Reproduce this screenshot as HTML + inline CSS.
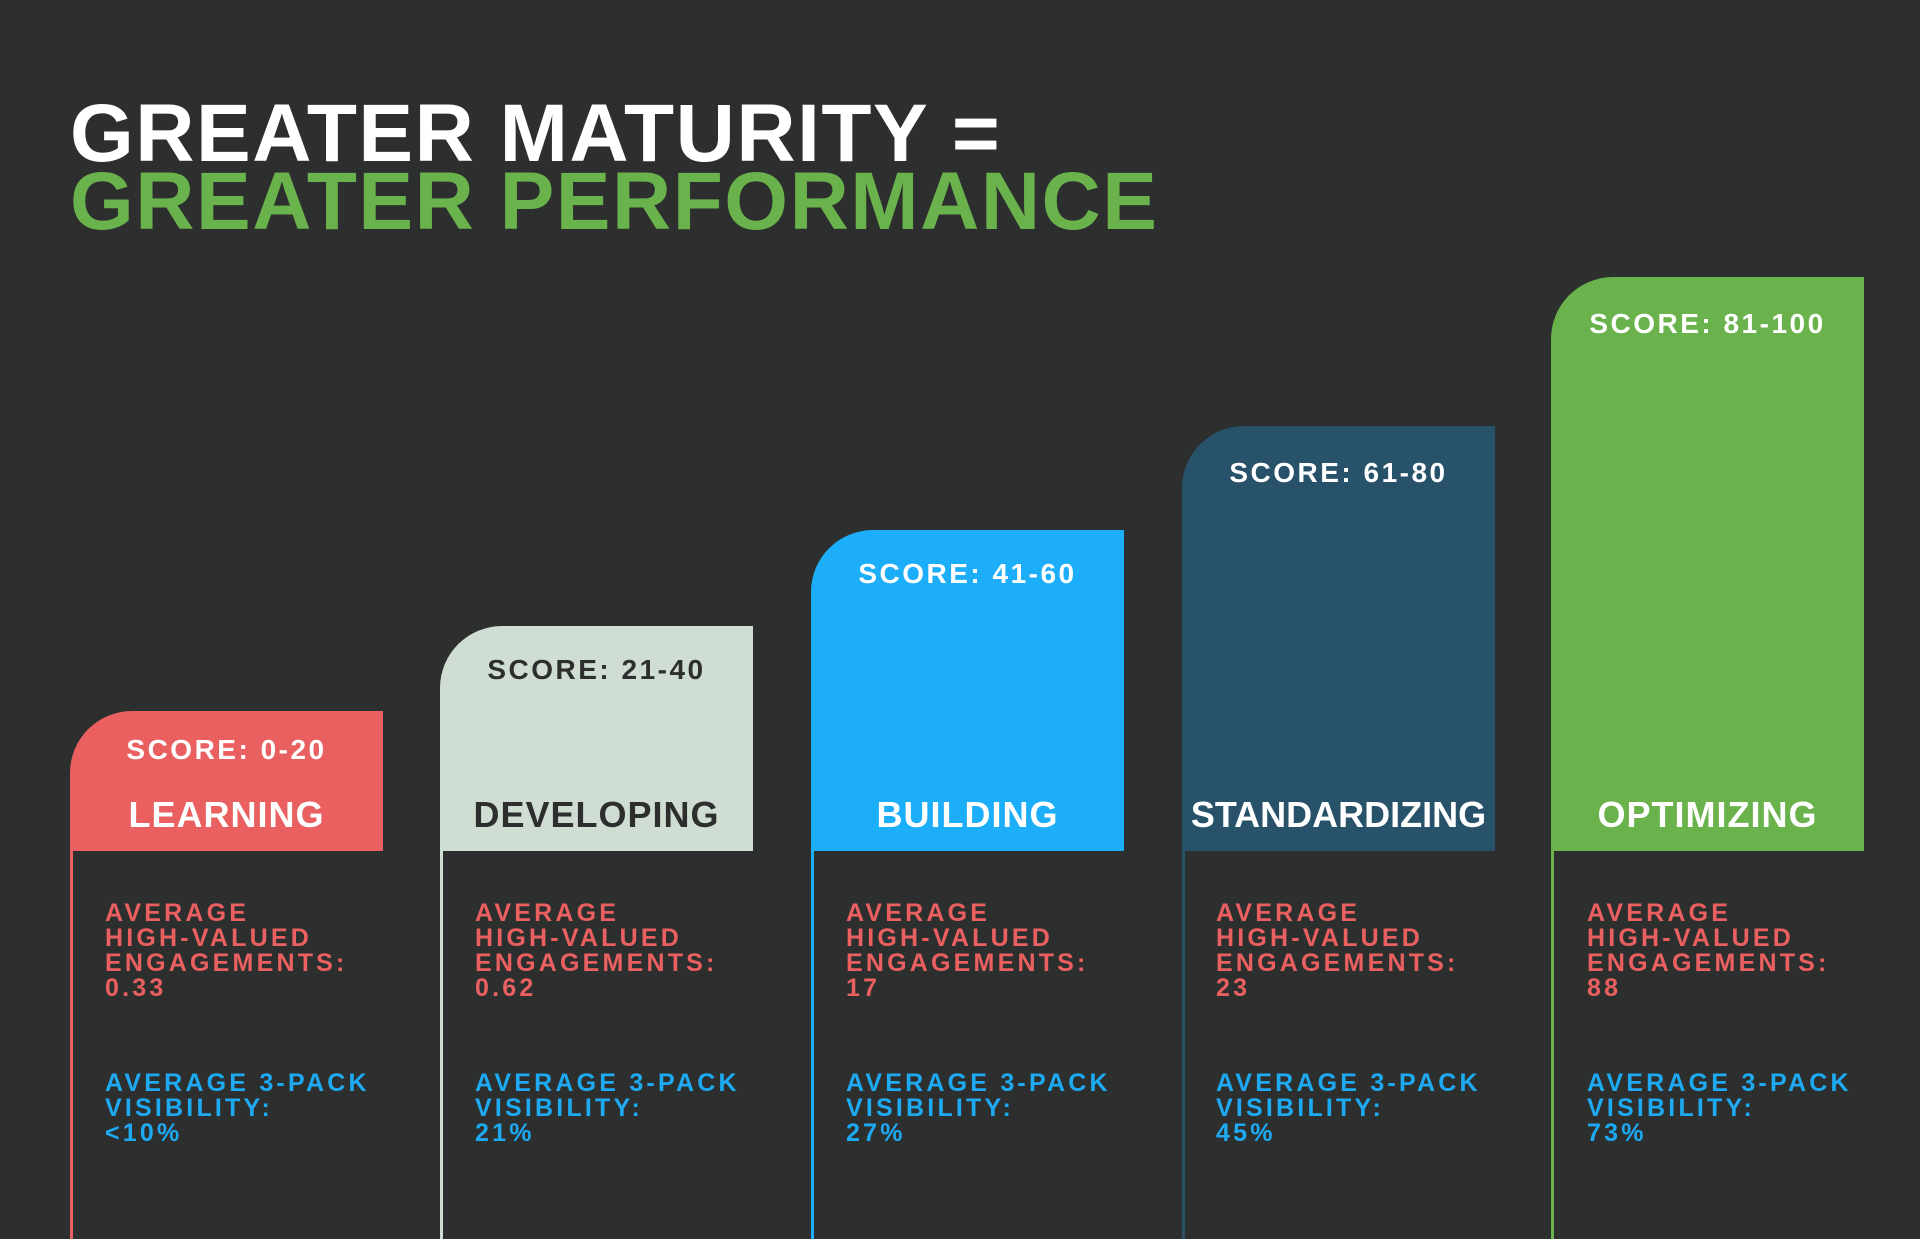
<!DOCTYPE html>
<html><head><meta charset="utf-8">
<style>
*{margin:0;padding:0;box-sizing:border-box}
body{width:1920px;height:1239px;background:#2d2e2e;position:relative;overflow:hidden;font-family:"Liberation Sans",sans-serif;font-weight:bold}
.t{position:absolute;left:70px;font-size:82px;line-height:1;letter-spacing:1.5px;white-space:nowrap}
.bar{position:absolute;width:313px;border-top-left-radius:62px}
.line{position:absolute;width:3px;top:851px;height:388px}
.sc{position:absolute;width:313px;text-align:center;font-size:28px;line-height:1;letter-spacing:2.5px}
.nm{position:absolute;width:313px;text-align:center;font-size:36px;line-height:1;top:797px;letter-spacing:1px}
.body{position:absolute;font-size:25px;line-height:25px;letter-spacing:3.2px;white-space:nowrap}
.r{color:#ea6060}.b{color:#1eaaf2}
</style></head><body>
<div class="t" style="top:93px;color:#fff">GREATER MATURITY =</div>
<div class="t" style="top:161px;color:#6ab24c">GREATER PERFORMANCE</div>

<div class="bar" style="left:70px;top:711px;height:140px;background:#ea6060"></div>
<div class="line" style="left:70px;background:#ea6060"></div>
<div class="sc" style="left:70px;top:736px;color:#fff">SCORE: 0-20</div>
<div class="nm" style="left:70px;color:#fff">LEARNING</div>

<div class="bar" style="left:440px;top:626px;height:225px;background:#d0ddd3"></div>
<div class="line" style="left:440px;background:#d0ddd3"></div>
<div class="sc" style="left:440px;top:656px;color:#2d2e2e">SCORE: 21-40</div>
<div class="nm" style="left:440px;color:#2d2e2e">DEVELOPING</div>

<div class="bar" style="left:811px;top:530px;height:321px;background:#1daefa"></div>
<div class="line" style="left:811px;background:#1daefa"></div>
<div class="sc" style="left:811px;top:560px;color:#fff">SCORE: 41-60</div>
<div class="nm" style="left:811px;color:#fff">BUILDING</div>

<div class="bar" style="left:1182px;top:426px;height:425px;background:#27526a"></div>
<div class="line" style="left:1182px;background:#27526a"></div>
<div class="sc" style="left:1182px;top:459px;color:#fff">SCORE: 61-80</div>
<div class="nm" style="left:1182px;color:#fff;letter-spacing:0">STANDARDIZING</div>

<div class="bar" style="left:1551px;top:277px;height:574px;background:#6ab24c"></div>
<div class="line" style="left:1551px;background:#6ab24c"></div>
<div class="sc" style="left:1551px;top:310px;color:#fff">SCORE: 81-100</div>
<div class="nm" style="left:1551px;color:#fff">OPTIMIZING</div>

<div class="body r" style="left:105px;top:901px">AVERAGE<br>HIGH-VALUED<br>ENGAGEMENTS:<br>0.33</div>
<div class="body b" style="left:105px;top:1071px">AVERAGE 3-PACK<br>VISIBILITY:<br>&lt;10%</div>
<div class="body r" style="left:475px;top:901px">AVERAGE<br>HIGH-VALUED<br>ENGAGEMENTS:<br>0.62</div>
<div class="body b" style="left:475px;top:1071px">AVERAGE 3-PACK<br>VISIBILITY:<br>21%</div>
<div class="body r" style="left:846px;top:901px">AVERAGE<br>HIGH-VALUED<br>ENGAGEMENTS:<br>17</div>
<div class="body b" style="left:846px;top:1071px">AVERAGE 3-PACK<br>VISIBILITY:<br>27%</div>
<div class="body r" style="left:1216px;top:901px">AVERAGE<br>HIGH-VALUED<br>ENGAGEMENTS:<br>23</div>
<div class="body b" style="left:1216px;top:1071px">AVERAGE 3-PACK<br>VISIBILITY:<br>45%</div>
<div class="body r" style="left:1587px;top:901px">AVERAGE<br>HIGH-VALUED<br>ENGAGEMENTS:<br>88</div>
<div class="body b" style="left:1587px;top:1071px">AVERAGE 3-PACK<br>VISIBILITY:<br>73%</div>
</body></html>
